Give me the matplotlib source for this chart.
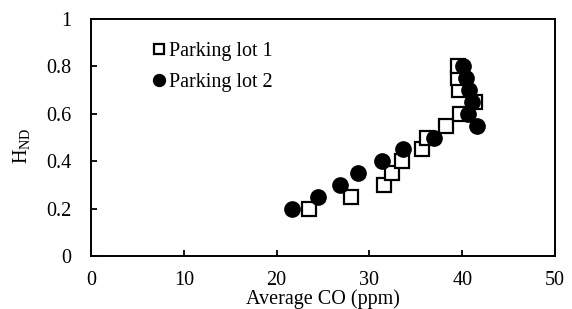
import matplotlib
matplotlib.use("Agg")
import matplotlib.pyplot as plt

# Parking lot 1 (open squares)
co_lot1 = [23.5, 28.0, 31.6, 32.4, 33.5, 35.7, 36.2, 38.3, 39.8, 41.4, 39.7, 39.6, 39.5]
h_lot1 = [0.20, 0.25, 0.30, 0.35, 0.40, 0.45, 0.50, 0.55, 0.60, 0.65, 0.70, 0.75, 0.80]
# Parking lot 2 (filled circles)
co_lot2 = [21.7, 24.5, 26.8, 28.8, 31.4, 33.6, 37.0, 41.6, 40.6, 41.1, 40.7, 40.4, 40.1]
h_lot2 = [0.20, 0.25, 0.30, 0.35, 0.40, 0.45, 0.50, 0.55, 0.60, 0.65, 0.70, 0.75, 0.80]

x_ticks = [0, 10, 20, 30, 40, 50]
y_ticks = [0, 0.2, 0.4, 0.6, 0.8, 1]
y_tick_labels = ["0", "0.2", "0.4", "0.6", "0.8", "1"]

FS = 14.5

plt.rcParams["font.family"] = ["Liberation Serif", "DejaVu Serif"]
plt.rcParams["mathtext.fontset"] = "custom"
plt.rcParams["mathtext.rm"] = "Liberation Serif"

fig = plt.figure(figsize=(5.72, 3.09), dpi=100)
ax = fig.add_axes([91 / 572, 1 - 256 / 309, (555 - 91) / 572, (256 - 19) / 309])

ax.plot(co_lot1, h_lot1, linestyle="none", marker="s", markersize=9.5,
        markerfacecolor="white", markeredgecolor="black", markeredgewidth=1.6,
        label="Parking lot 1")
ax.plot(co_lot2, h_lot2, linestyle="none", marker="o", markersize=11,
        markerfacecolor="black", markeredgecolor="black",
        label="Parking lot 2")

ax.set_xlim(0, 50)
ax.set_ylim(0, 1)
ax.set_xticks(x_ticks)
ax.set_yticks(y_ticks)
ax.set_yticklabels(y_tick_labels)
ax.tick_params(axis="both", direction="in", length=4.5, width=1.3,
               labelsize=FS)
ax.tick_params(axis="x", pad=11)
ax.tick_params(axis="y", pad=14)
for s in ax.spines.values():
    s.set_linewidth(1.4)

ax.set_xlabel("Average CO (ppm)", fontsize=FS, labelpad=-1)
ax.set_ylabel(r"H$_{\mathrm{ND}}$", fontsize=FS)
ax.yaxis.set_label_coords(-0.124, 0.465)

ax.legend(loc="upper left", bbox_to_anchor=(0.125, 0.905), frameon=False,
          fontsize=FS, handletextpad=0.0, handlelength=1.0, markerscale=0.78,
          labelspacing=0.62, borderaxespad=0, borderpad=0)

fig.savefig("out.png", dpi=100)
